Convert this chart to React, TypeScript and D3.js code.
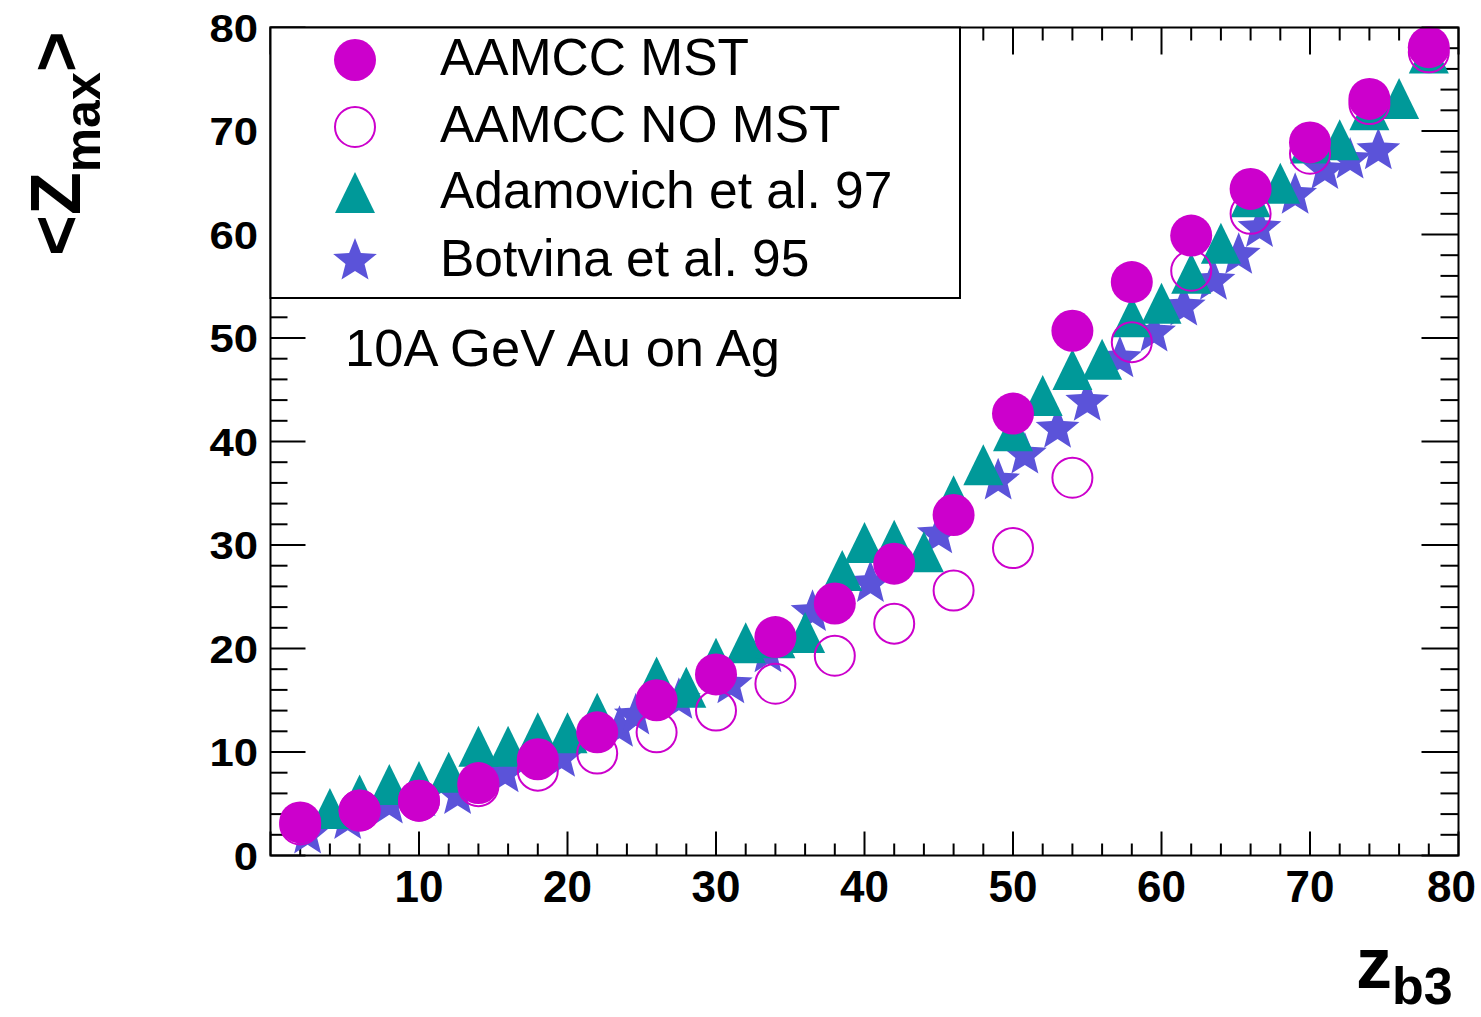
import React from "react";
import * as d3 from "d3";

// ---- data ----
const mstX = [2, 6, 10, 14, 18, 22, 26, 30, 34, 38, 42, 46, 50, 54, 58, 62, 66, 70, 74, 78];
const mstY = [3.2, 4.35, 5.3, 7.0, 9.3, 11.9, 15.0, 17.5, 21.1, 24.35, 28.2, 32.9, 42.7, 50.7, 55.4, 59.9, 64.4, 68.9, 73.1, 78.1];

const noMstX = [2, 6, 10, 14, 18, 22, 26, 30, 34, 38, 42, 46, 50, 54, 58, 62, 66, 70, 74, 78];
const noMstY = [3.0, 4.35, 5.3, 6.7, 8.2, 9.85, 11.9, 14.0, 16.6, 19.3, 22.4, 25.6, 29.7, 36.5, 49.6, 56.5, 62.0, 67.8, 72.6, 77.6];

const adamX = [4, 6, 8, 10, 12, 14, 16, 18, 20, 22, 26, 28, 30, 32, 34, 36, 38.5, 40, 42, 44, 46, 48, 50, 52, 54, 56, 58, 60, 62, 64, 66, 68, 70, 72, 74, 76, 78];
const adamY = [4.5, 5.8, 6.8, 7.1, 8.0, 10.5, 10.5, 11.8, 11.8, 13.7, 17.2, 16.2, 19.0, 20.5, 21.0, 21.5, 27.5, 30.2, 30.4, 29.3, 34.7, 37.7, 41.0, 44.4, 46.9, 47.9, 52.0, 53.3, 56.2, 59.1, 63.6, 64.9, 68.8, 69.1, 72.0, 73.1, 77.5];

const botvX = [2.5, 5.2, 8, 10.2, 12.6, 15.8, 19.6, 23.5, 24.6, 27.5, 31, 33.5, 36.5, 40.4, 45, 49, 50.8, 53, 55, 57.2, 59.5, 61.5, 63.5, 65.2, 66.6, 69, 71, 72.7, 74.6];
const botvY = [2.0, 3.4, 4.9, 5.6, 5.8, 7.9, 9.4, 12.3, 13.5, 15.0, 16.5, 19.5, 23.5, 26.3, 31.0, 36.2, 38.7, 41.2, 43.8, 48.0, 50.5, 53.0, 55.5, 58.0, 60.6, 63.8, 66.2, 67.2, 68.1];

const xMajor = [10, 20, 30, 40, 50, 60, 70, 80];
const yMajor = [0, 10, 20, 30, 40, 50, 60, 70, 80];

const legendLabels = ["AAMCC MST", "AAMCC NO MST", "Adamovich et al. 97", "Botvina et al. 95"];

const MAGENTA = "#cc00cc";
const TEAL = "#009999";
const VIOLET = "#5b53d9";
const FONT = "'Liberation Sans', Arial, Helvetica, sans-serif";

function starPath(cx: number, cy: number, R: number, r: number) {
  const pts: string[] = [];
  for (let i = 0; i < 10; i++) {
    const a = -Math.PI / 2 + (i * Math.PI) / 5;
    const rad = i % 2 === 0 ? R : r;
    pts.push(`${(cx + rad * Math.cos(a)).toFixed(2)},${(cy + rad * Math.sin(a)).toFixed(2)}`);
  }
  return "M" + pts.join("L") + "Z";
}
function triPath(cx: number, cy: number, s: number) {
  const h = s / 2;
  return `M${cx},${cy - h - 1}L${cx + h},${cy + h}L${cx - h},${cy + h}Z`;
}

export default function App() {
  const W = 1481, H = 1017;
  const L = 270.5, R = 1458.5, T = 27.5, B = 855.5;
  const x = d3.scaleLinear().domain([0, 80]).range([L, R]);
  const y = d3.scaleLinear().domain([0, 80]).range([B, T]);
  const minorX = d3.range(0, 81, 2);
  const minorY = d3.range(0, 81, 2);

  const legendBox = { x0: L, y0: T, x1: 960, y1: 298 };
  const legendRowY = [60, 127, 193, 261];

  const tick = (key: string, x1: number, y1: number, x2: number, y2: number) => (
    <line key={key} x1={x1} y1={y1} x2={x2} y2={y2} stroke="#000" strokeWidth={2} />
  );

  return (
    <svg width={W} height={H} style={{ position: "absolute", left: 0, top: 0, background: "#fff" }}>
      <rect x={0} y={0} width={W} height={H} fill="#fff" />
      {/* ticks */}
      {minorX.map((v) => {
        const major = v % 10 === 0;
        return (
          <g key={"tx" + v}>
            {tick("b" + v, x(v), B, x(v), B - (major ? 24 : 12))}
            {tick("t" + v, x(v), T, x(v), T + (major ? 27 : 13))}
          </g>
        );
      })}
      {minorY.map((v) => {
        const major = v % 10 === 0;
        return (
          <g key={"ty" + v}>
            {tick("l" + v, L, y(v), L + (major ? 35 : 17), y(v))}
            {tick("r" + v, R, y(v), R - (major ? 37 : 18), y(v))}
          </g>
        );
      })}

      {/* data */}
      <g>
        {botvX.map((v, i) => (
          <path key={"s" + i} d={starPath(x(v), y(botvY[i]), 23, 10)} fill={VIOLET} />
        ))}
        {adamX.map((v, i) => (
          <path key={"a" + i} d={triPath(x(v), y(adamY[i]), 40)} fill={TEAL} />
        ))}
        {noMstX.map((v, i) => (
          <circle key={"o" + i} cx={x(v)} cy={y(noMstY[i])} r={20} fill="none" stroke={MAGENTA} strokeWidth={2} />
        ))}
        {mstX.map((v, i) => (
          <circle key={"f" + i} cx={x(v)} cy={y(mstY[i])} r={21} fill={MAGENTA} />
        ))}
      </g>

      {/* frame */}
      <rect x={L} y={T} width={R - L} height={B - T} fill="none" stroke="#000" strokeWidth={2} />

      {/* legend */}
      <rect x={legendBox.x0} y={legendBox.y0} width={legendBox.x1 - legendBox.x0} height={legendBox.y1 - legendBox.y0} fill="#fff" stroke="#000" strokeWidth={2} />
      <circle cx={355} cy={legendRowY[0]} r={21} fill={MAGENTA} />
      <circle cx={355} cy={legendRowY[1]} r={20} fill="none" stroke={MAGENTA} strokeWidth={2} />
      <path d={triPath(355, legendRowY[2], 40)} fill={TEAL} />
      <path d={starPath(355, legendRowY[3], 23, 10)} fill={VIOLET} />
      {legendLabels.map((t, i) => (
        <text key={t} x={440} y={legendRowY[i] + 15} fontFamily={FONT} fontSize={51.5} fill="#000">
          {t}
        </text>
      ))}

      <text x={345} y={366} fontFamily={FONT} fontSize={52.5} fill="#000">10A GeV Au on Ag</text>

      {/* tick labels */}
      {yMajor.map((v) => (
        <text key={"yl" + v} transform={`translate(258,${y(v) + 14}) scale(1.12,1)`} textAnchor="end" fontFamily={FONT} fontWeight="bold" fontSize={39} fill="#000">
          {v}
        </text>
      ))}
      {xMajor.map((v) => {
        const last = v === 80;
        return (
          <text key={"xl" + v} x={last ? 1476 : x(v)} y={902} textAnchor={last ? "end" : "middle"} fontFamily={FONT} fontWeight="bold" fontSize={44} fill="#000">
            {v}
          </text>
        );
      })}

      {/* axis titles */}
      <text x={1356} y={988} fontFamily={FONT} fontWeight="bold" fill="#000">
        <tspan fontSize={72}>z</tspan>
        <tspan fontSize={52} dy={16}>b3</tspan>
      </text>
      <text transform="translate(80,256) rotate(-90)" fontFamily={FONT} fontWeight="bold" fill="#000">
        <tspan fontSize={70}>{"<Z"}</tspan>
        <tspan fontSize={50} dy={20}>max</tspan>
        <tspan fontSize={70} dy={-20}>{">"}</tspan>
      </text>
    </svg>
  );
}
